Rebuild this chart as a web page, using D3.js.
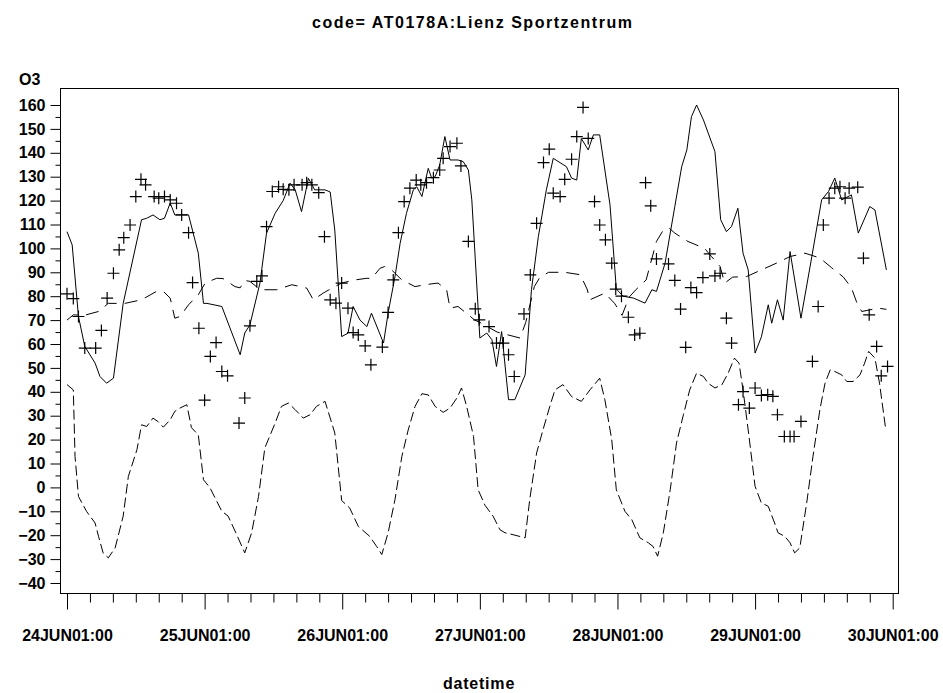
<!DOCTYPE html>
<html><head><meta charset="utf-8">
<script src="https://cdn.jsdelivr.net/npm/d3@7"></script>
<style>
body{margin:0;background:#fff;}
svg text{font-family:"Liberation Sans",Arial,Helvetica,sans-serif;font-weight:bold;fill:#000;}
</style></head><body>
<svg id="chart" width="943" height="693"></svg>
<script>
// ---------- data (hours after 24JUN01:00, O3 values) ----------
const titleText = "code= AT0178A:Lienz Sportzentrum";
const yLabel = "O3";
const xLabel = "datetime";
const xTickLabels = ["24JUN01:00","25JUN01:00","26JUN01:00","27JUN01:00","28JUN01:00","29JUN01:00","30JUN01:00"];
const yTicks = [-40,-30,-20,-10,0,10,20,30,40,50,60,70,80,90,100,110,120,130,140,150,160];

const solidHour = [0,0.9,2,3.1,4.9,5.75,6.9,8.1,9.8,13,13.9,15,16.2,17,18,18.8,20,21.2,22.9,23.8,24.4,27,30.2,31,31.9,33.65,34.8,36.3,37.7,38.9,39.8,40.9,42.1,43.2,45,45.9,46.7,47.9,49,49.9,51.1,52.3,53.1,55.2,56,57.2,58.1,59.2,60.4,61,61.9,63,63.6,64.2,65,65.9,66.8,68.2,69.1,70,70.6,72,73.2,74.1,74.9,75.8,77,78.1,79.9,81,82.2,83.6,84.8,87.1,88,88.9,89.7,90.9,91.8,92.9,94.7,95.8,97,98.8,100.8,102,102.8,104.3,106,107.2,108.1,108.9,109.8,111,113,114,115,115.9,117,117.9,118.8,120,121.1,122.3,122.9,123.9,124.9,126.1,128,129.9,131.6,132.8,133.9,135.1,136.8,138,140,140.9,142.9];
const solidO3 = [107,101.5,71.5,59,52,46.4,43.6,45.7,77,112,112.6,114,112,112.6,119,114,114,114,98,77,77,75.7,55.5,64.6,68,85.5,106.4,114.7,120,127.3,124.5,115.4,129.3,124.5,124.5,123.6,107.7,63.1,64.5,75.7,70,67.3,72.9,60.4,72.9,88.2,102.2,114.7,124.5,125.8,121.7,133.5,129.4,130,134.9,146.8,137,137,136.3,132.8,120.3,62.5,64.6,61.8,50.6,65.2,36.7,36.7,47.1,82.7,104.9,124.5,137.7,134.2,129.4,128.6,146,141.2,147.5,147.5,118.2,83,80,79.2,77.1,82.7,82,93.8,117.5,134.2,141.2,155.1,160,153.7,140.5,112,107,109.2,116.8,98,91,56.2,63,76.4,68.7,78.5,70,98.7,70.8,96.6,120.3,123.8,129.4,120.3,122.4,106.4,117.5,116.1,91];

const upperHour = [0,1.1,3,5.5,7.2,10.1,13,15.6,16.8,18,18.8,19.7,21.2,22.9,24.1,26.1,27.2,29.3,30.2,31,31.9,33.7,36.6,39.2,41.8,42.95,44.7,46.2,47.9,50.2,52.3,53.1,54.6,55.4,56.6,58.4,60.7,62.4,64.7,66.2,66.8,68.2,70,71.1,72.3,75,79,80,81.5,82.5,84,86.8,89.5,90.7,91.2,93.8,95.5,96.8,98,99.2,101,102.8,104,105,106,108.3,111.2,112.4,113.9,114.7,116.1,118.5,121.1,123.7,126.1,128.7,131.3,133.3,135.4,136.8,137.7,138.6,141.5,142.9];
const upperO3 = [70,72.2,72,73.6,77,77,78.5,82,82,79.2,70.8,71.5,76.4,80.6,85.5,87.5,87.4,84,83.5,86.6,86.2,82.7,82.7,84.8,83.4,78.5,81.3,83.4,85.5,86.8,87.5,87.4,91.7,92.4,91,86.8,84,84.8,85.5,82.7,75,75.7,72.2,70,68.7,65,62.5,69,84,88,90,90,89,83,78.5,81.3,77,72,79.5,82.7,86.8,102.9,107.7,108.5,106.4,102.9,100,96.6,92.4,85.5,88,88.2,91,93.8,96.6,98,96,92,88,83.5,77.6,73.6,75,74.5];

const lowerHour = [0,1.1,1.4,2,3.4,4.9,5.5,6.3,7.2,8.4,9.8,10.7,12.2,13,13.9,15,15.9,16.8,18,18.8,19.7,20.9,21.7,22.9,23.8,24.9,27,28.1,29.6,31,32.2,33.4,34.5,36.3,37.4,38.6,39.8,41.2,42.4,43.5,45,46.7,47.9,49.3,50.8,52.8,54,54.9,56,57.2,58.4,59.5,60.7,61.9,63,64.2,65.6,66.8,68,68.8,69.7,70.9,71.7,72.9,74.3,75.5,76.4,77.8,79.9,80.7,81.9,83,84.2,85.1,86.5,88,89.7,91.2,92.9,93.8,95,95.8,97.3,98.5,99.9,101.4,102.2,103,104,105.2,106.3,107.5,108.6,109.8,111,111.8,113,114.2,115.3,116.4,117.2,117.9,118.8,120,121.1,122.3,123.4,124,125.2,126.1,126.9,127.8,129,130.1,131.3,132.2,133.1,133.9,135.1,136,137.1,138.3,139.1,139.8,140.9,141.7,142.8];
const lowerO3 = [43,40.8,13,-3.8,-10,-14.9,-20.5,-27.4,-29.5,-25.3,-12,4.6,15.8,26.2,25.5,29,27.5,25.2,28.3,31.8,33.2,34.6,25,22,3.2,0,-10,-12,-19.8,-27.4,-19,-3.8,16.5,26.9,33.9,35.3,32.5,29,30.4,33.9,36,22.8,-5.5,-8.6,-16.3,-20.5,-24.7,-28.1,-19,-5.1,13,24,33.9,39.2,38.7,33.9,31.4,33.2,37.4,41.6,33.9,21.3,-1,-7.5,-12,-17.7,-19,-19.8,-21.1,-5.1,14.4,24,33.9,40.8,43,38,36,40.8,45.7,36.7,20,-1,-10,-13.5,-21.1,-23.2,-24.7,-28.8,-19,-1,18.6,30.4,40.8,47.8,46.4,43.6,41.6,42.9,47.8,54.1,52,40.8,24,0.4,-6.5,-7.9,-14.9,-19,-20.5,-23.2,-27.4,-25.3,-6.5,13,32.5,43.6,49.2,48.5,47.1,44.3,44.3,47.1,52,56.9,54.1,43.6,24];

const obsHour = [0,1.1,2,3.1,5,6,7,8.1,9.1,9.9,11,12,12.9,13.7,15.2,16,17,18,19.1,20,21.2,21.9,23,24,25,26,27,28,30,31,31.9,33.1,34,34.8,35.8,36.9,37.7,38.7,39.6,41,41.8,42.7,43.9,44.9,45.9,46.9,47.9,49,49.9,50.8,52,53,55,56,56.9,57.8,58.8,59.8,60.9,61.7,62.7,63.9,65,65.6,66.8,68,68.7,70,71.2,71.9,73.6,74.9,76.1,77,78,79.7,80.8,81.9,83.1,84.1,84.8,86,86.8,88,88.9,90,90.9,92,92.9,93.9,95,95.7,96.7,97.9,99,99.9,100.9,101.8,102.8,104.9,106,107,107.9,108.8,109.8,110.9,112.1,113,113.9,115,115.9,117.1,117.9,119,120,121.1,122.2,123.1,123.9,125.1,126.1,126.8,128,130,131,131.9,132.9,133.9,134.8,135.7,136.4,137.9,138.9,139.9,141.2,142,143.1];
const obsO3 = [81,79,71.5,58.3,58.3,65.7,79.2,89.6,99.4,104.5,109.8,121.7,128.9,126.6,121.7,121,121.7,120.3,118.9,114,106.6,85.7,66.6,36.5,54.8,60.6,48.5,46.7,26.9,37.4,67.6,86.2,88.5,109.1,123.8,125.8,124.7,124.5,126.6,126.6,127.5,126.6,123.3,104.9,78.5,77.1,85.5,75,64.8,63.8,59.2,51.3,58.7,73.2,86.8,106.6,119.6,125.2,128.6,126.6,127.5,129.6,132.8,137.7,142.6,144,134.5,102.9,74.7,70.1,67.3,60.4,60.4,55.5,46.4,72.6,88.9,110.5,135.9,141.5,123.1,121.7,128.9,137.3,146.8,159,146,119.6,109.8,103.6,93.8,83,80,71.2,63.8,64.5,127.5,117.8,95.6,93.5,86.6,74.6,58.6,83.6,81.5,87.8,97.7,88.5,89.6,70.8,60.4,34.6,40.1,33.2,41.6,38.5,38.8,38.1,30.4,21.3,21.3,21.3,27.6,52.7,75.7,109.8,121,125.2,125.8,121,125.2,125.6,95.9,72.2,59,46.7,50.6];

// ---------- drawing ----------
const svg = d3.select("#chart");
const start = Date.UTC(2001, 5, 24, 0);
const toDate = h => new Date(start + h * 3600000);

const x = d3.scaleUtc().domain([toDate(0), toDate(144)]).range([67, 892.7]);
const y = d3.scaleLinear().domain([-40, 160]).range([583, 105]);

const fontSize = "16px";
const fontFamily = '"Liberation Sans",Arial,Helvetica,sans-serif';

// frame
svg.append("rect")
  .attr("x", 60.5).attr("y", 88.5).attr("width", 838).attr("height", 505)
  .attr("fill", "none").attr("stroke", "#000").attr("stroke-width", 1);

// y axis major
const yAxis = d3.axisLeft(y).tickValues(yTicks).tickSize(10).tickPadding(5)
  .tickFormat(d => d < 0 ? "\u2212" + Math.abs(d) : String(d));
const gy = svg.append("g").attr("transform", "translate(60.5,0)").call(yAxis);
gy.select(".domain").remove();
gy.selectAll("text").attr("font-size", fontSize).attr("font-family", fontFamily).attr("font-weight", "bold").attr("fill", "#000");
gy.selectAll("line").attr("stroke", "#000");
// y axis minor
const yMinor = d3.range(-35, 160, 10);
const gym = svg.append("g").attr("transform", "translate(60.5,0)")
  .call(d3.axisLeft(y).tickValues(yMinor).tickSize(5).tickFormat(""));
gym.select(".domain").remove();
gym.selectAll("line").attr("stroke", "#000");

// x axis major
const xMajor = d3.range(0, 7).map(i => toDate(i * 24));
const xAxis = d3.axisBottom(x).tickValues(xMajor).tickSize(16).tickPadding(20)
  .tickFormat((d, i) => xTickLabels[i]);
const gx = svg.append("g").attr("transform", "translate(0,593.5)").call(xAxis);
gx.select(".domain").remove();
gx.selectAll("text").attr("font-size", fontSize).attr("font-family", fontFamily).attr("font-weight", "bold").attr("fill", "#000");
gx.selectAll("line").attr("stroke", "#000");
// x axis minor
const xMinor = d3.range(0, 145, 4).filter(h => h % 24 !== 0).map(toDate);
const gxm = svg.append("g").attr("transform", "translate(0,593.5)")
  .call(d3.axisBottom(x).tickValues(xMinor).tickSize(9).tickFormat(""));
gxm.select(".domain").remove();
gxm.selectAll("line").attr("stroke", "#000");

// labels
svg.append("text").attr("x", 472).attr("y", 28).attr("text-anchor", "middle")
  .attr("font-size", fontSize).attr("textLength", 320).attr("lengthAdjust", "spacing").text(titleText);
svg.append("text").attr("x", 19).attr("y", 85).attr("font-size", fontSize).text(yLabel);
svg.append("text").attr("x", 479).attr("y", 689).attr("text-anchor", "middle")
  .attr("font-size", fontSize).attr("letter-spacing", "0.8px").text(xLabel);

// lines
const line = d3.line().x(d => x(toDate(d[0]))).y(d => y(d[1]));
const plot = svg.append("g");
plot.append("path").datum(d3.zip(lowerHour, lowerO3)).attr("d", line)
  .attr("fill", "none").attr("stroke", "#000").attr("stroke-width", 1).attr("stroke-dasharray", "10,4");
plot.append("path").datum(d3.zip(upperHour, upperO3)).attr("d", line)
  .attr("fill", "none").attr("stroke", "#000").attr("stroke-width", 1).attr("stroke-dasharray", "13,8");
plot.append("path").datum(d3.zip(solidHour, solidO3)).attr("d", line)
  .attr("fill", "none").attr("stroke", "#000").attr("stroke-width", 1);

// observation markers (+)
plot.selectAll("path.obs").data(d3.zip(obsHour, obsO3)).enter().append("path")
  .attr("class", "obs")
  .attr("transform", d => `translate(${x(toDate(d[0]))},${y(d[1])})`)
  .attr("d", "M-6,0H6M0,-6V6")
  .attr("fill", "none").attr("stroke", "#000").attr("stroke-width", 1.2);
</script></body></html>
